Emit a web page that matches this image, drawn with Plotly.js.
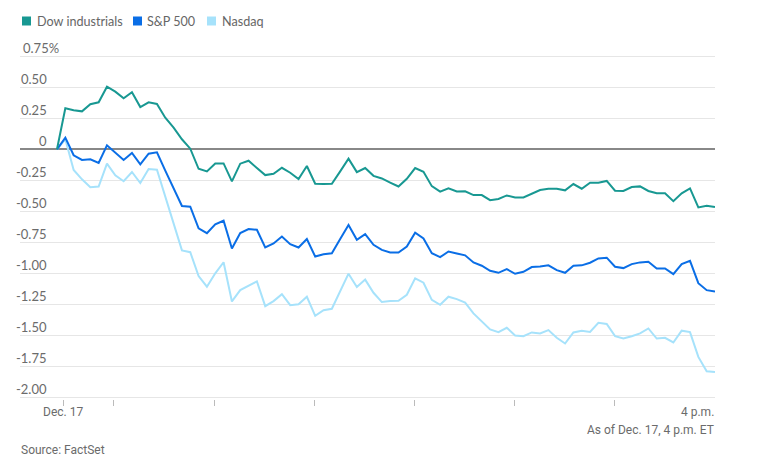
<!DOCTYPE html>
<html>
<head>
<meta charset="utf-8">
<script src="https://cdn.plot.ly/plotly-3.0.1.min.js"></script>
<style>
  html, body { margin: 0; padding: 0; background: #fff; }
  #chart { width: 763px; height: 459px; }
</style>
</head>
<body>
<div id="chart"></div>
<script>
// ---- Data (percent change, 5-minute intervals, Dec. 17) ----
const seriesNames = ["Dow industrials", "S&P 500", "Nasdaq"];
const seriesColors = ["#189892", "#0a6ee6", "#a6e2fb"];

const dow = [0, 0.331, 0.315, 0.306, 0.363, 0.379, 0.505, 0.465, 0.411, 0.46,
  0.341, 0.379, 0.366, 0.255, 0.175, 0.081, 0.005, -0.157, -0.178, -0.114,
  -0.114, -0.259, -0.116, -0.092, -0.151, -0.208, -0.197, -0.149, -0.189, -0.24,
  -0.135, -0.278, -0.28, -0.278, -0.178, -0.076, -0.184, -0.151, -0.214, -0.235,
  -0.268, -0.3, -0.238, -0.151, -0.181, -0.297, -0.341, -0.314, -0.34, -0.339,
  -0.369, -0.369, -0.41, -0.401, -0.372, -0.388, -0.388, -0.358, -0.328, -0.318,
  -0.318, -0.331, -0.28, -0.318, -0.269, -0.269, -0.255, -0.334, -0.336, -0.304,
  -0.299, -0.336, -0.355, -0.355, -0.418, -0.355, -0.315, -0.469, -0.455, -0.466];

const sp500 = [0, 0.094, -0.048, -0.086, -0.081, -0.11, 0.032, -0.027, -0.086, -0.03,
  -0.121, -0.035, -0.024, -0.172, -0.315, -0.457, -0.463, -0.638, -0.676, -0.605,
  -0.576, -0.8, -0.676, -0.643, -0.649, -0.792, -0.759, -0.703, -0.765, -0.792,
  -0.724, -0.865, -0.846, -0.838, -0.724, -0.611, -0.73, -0.684, -0.77, -0.811,
  -0.832, -0.832, -0.784, -0.673, -0.719, -0.838, -0.87, -0.824, -0.84, -0.855,
  -0.912, -0.939, -0.98, -0.996, -0.966, -1.004, -0.988, -0.95, -0.945, -0.936,
  -0.974, -0.996, -0.939, -0.936, -0.915, -0.88, -0.874, -0.947, -0.958, -0.926,
  -0.912, -0.907, -0.961, -0.961, -1.007, -0.926, -0.899, -1.08, -1.136, -1.147];

const nasdaq = [0, 0.081, -0.167, -0.242, -0.306, -0.301, -0.116, -0.21, -0.258, -0.183,
  -0.272, -0.159, -0.164, -0.38, -0.6, -0.815, -0.83, -1.022, -1.108, -1.0,
  -0.911, -1.227, -1.135, -1.103, -1.065, -1.265, -1.224, -1.168, -1.257, -1.249,
  -1.189, -1.343, -1.298, -1.286, -1.149, -1.003, -1.111, -1.051, -1.157, -1.232,
  -1.224, -1.222, -1.173, -1.041, -1.076, -1.214, -1.254, -1.189, -1.208, -1.236,
  -1.323, -1.385, -1.453, -1.474, -1.439, -1.501, -1.507, -1.477, -1.485, -1.458,
  -1.52, -1.566, -1.477, -1.463, -1.473, -1.399, -1.409, -1.507, -1.526, -1.507,
  -1.485, -1.445, -1.526, -1.52, -1.558, -1.463, -1.474, -1.674, -1.79, -1.796];

const yTickVals = [0.75, 0.5, 0.25, 0, -0.25, -0.5, -0.75, -1.0, -1.25, -1.5, -1.75, -2.0];
const yTickLabels = ["0.75%", "0.50", "0.25", "0", "-0.25", "-0.50", "-0.75", "-1.00", "-1.25", "-1.50", "-1.75", "-2.00"];
const xTickVals = [0.76, 6.77, 18.86, 30.95, 42.93, 54.96, 66.95];
const xStartLabel = "Dec. 17";
const xEndLabel = "4 p.m.";
const noteText = "As of Dec. 17, 4 p.m. ET";
const sourceText = "Source: FactSet";

// ---- Layout geometry ----
const W = 763, H = 459;
const M = { l: 20, r: 48, t: 55, b: 60 };
const PW = W - M.l - M.r, PH = H - M.t - M.b;
const px2paperX = (px) => (px - M.l) / PW;
const px2paperY = (py) => (H - M.b - py) / PH;

const allSeries = [dow, sp500, nasdaq];
const traces = allSeries.map((ys, k) => ({
  type: "scatter",
  mode: "lines",
  y: ys,
  name: seriesNames[k],
  line: { color: seriesColors[k], width: 2 },
  showlegend: false,
  hoverinfo: "skip"
}));
traces.reverse();

const textFont = { family: "Lato, 'Open Sans', sans-serif", size: 13, color: "#6b6b6b" };
const smallFont = { family: "Roboto, 'Liberation Sans', sans-serif", size: 12, color: "#6b6b6b" };

const annotations = [];
const shapes = [];

yTickVals.forEach((v, i) => {
  const top = i === 0;
  annotations.push({
    xref: "paper", yref: "y", x: 0, y: v,
    xanchor: top ? "left" : "right", yanchor: "bottom",
    xshift: top ? 1 : 29, yshift: -2,
    text: yTickLabels[i], showarrow: false, font: textFont
  });
});

annotations.push({
  xref: "x", yref: "paper", x: xTickVals[0], y: 0, xanchor: "center", yanchor: "top",
  yshift: -4, text: xStartLabel, showarrow: false, font: smallFont
});
annotations.push({
  xref: "paper", yref: "paper", x: 1, y: 0, xanchor: "right", yanchor: "top",
  yshift: -4, xshift: 1, text: xEndLabel, showarrow: false, font: smallFont
});
annotations.push({
  xref: "paper", yref: "paper", x: 1, y: 0, xanchor: "right", yanchor: "top",
  yshift: -22, xshift: 1, text: noteText, showarrow: false, font: smallFont
});
annotations.push({
  xref: "paper", yref: "paper", x: 0, y: 0, xanchor: "left", yanchor: "top",
  yshift: -42, xshift: -1, text: sourceText, showarrow: false, font: smallFont
});

const legendSq = [22, 133, 207];
const legendTx = [37, 147, 222];
const legendY = 21;
seriesNames.forEach((nm, k) => {
  shapes.push({
    type: "rect", xref: "paper", yref: "paper",
    x0: px2paperX(legendSq[k]), x1: px2paperX(legendSq[k] + 9),
    y0: px2paperY(legendY + 4.5), y1: px2paperY(legendY - 4.5),
    fillcolor: seriesColors[k], line: { width: 0 }
  });
  annotations.push({
    xref: "paper", yref: "paper", x: px2paperX(legendTx[k]), y: px2paperY(legendY),
    xanchor: "left", yanchor: "middle", xshift: -2,
    text: nm, showarrow: false, font: { family: "Lato, 'Open Sans', sans-serif", size: 12.6, color: "#666" }
  });
});

const zeroPx = 149.3, pxPerUnit = 124;
const yTop = (zeroPx - M.t) / pxPerUnit;
const yBot = yTop - PH / pxPerUnit;
const idx0Px = 57, idxStep = (715 - 57) / 79;
const xLeft = (M.l - idx0Px) / idxStep;

const layout = {
  width: W, height: H,
  margin: M,
  paper_bgcolor: "#fff", plot_bgcolor: "#fff",
  showlegend: false,
  xaxis: {
    range: [xLeft, 79], showgrid: false, zeroline: false, showline: false,
    tickmode: "array", tickvals: xTickVals, ticktext: xTickVals.map(() => ""),
    ticks: "outside", ticklen: 6, tickwidth: 1, tickcolor: "#bbb", fixedrange: true
  },
  yaxis: {
    range: [yBot, yTop], tickmode: "array", tickvals: yTickVals,
    showticklabels: false, showgrid: true, gridcolor: "#e6e6e6", gridwidth: 1,
    zeroline: true, zerolinecolor: "#888", zerolinewidth: 2, showline: false, fixedrange: true
  },
  annotations: annotations,
  shapes: shapes
};

Plotly.newPlot("chart", traces, layout, { displayModeBar: false, staticPlot: true });
</script>
</body>
</html>
